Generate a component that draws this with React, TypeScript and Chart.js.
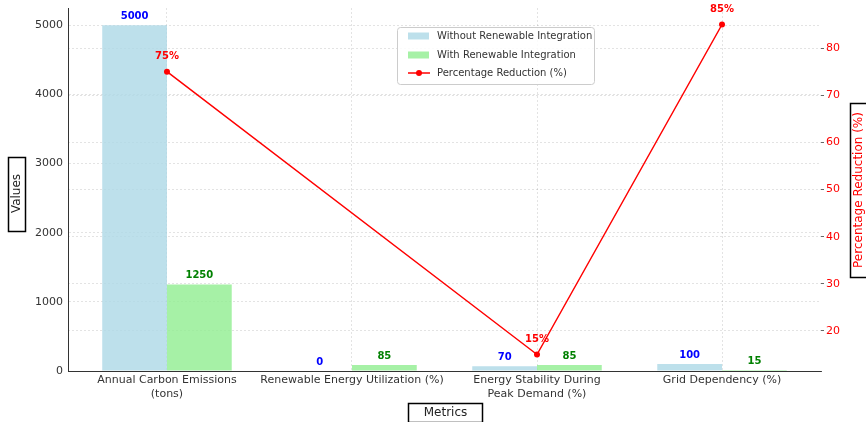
import React, { useEffect, useRef } from "react";
import { Chart, registerables } from "chart.js";

Chart.register(...registerables);

const categories: string[][] = [
  ["Annual Carbon Emissions", "(tons)"],
  ["Renewable Energy Utilization (%)"],
  ["Energy Stability During", "Peak Demand (%)"],
  ["Grid Dependency (%)"],
];
const withoutValues = [5000, 0, 70, 100];
const withValues = [1250, 85, 85, 15];
const reductionValues: (number | null)[] = [75, null, 15, 85];
const leftTicks = [0, 1000, 2000, 3000, 4000, 5000];
const rightTicks = [20, 30, 40, 50, 60, 70, 80];
const legendLabels = [
  "Without Renewable Integration",
  "With Renewable Integration",
  "Percentage Reduction (%)",
];

const FONT = "'DejaVu Sans', sans-serif";
const BLUE = "rgba(173,216,230,0.8)";
const GREEN = "rgba(144,238,144,0.8)";
const RED = "#ff0000";
const GRID = "rgba(0,0,0,0.14)";

const overlayPlugin = {
  id: "overlay",
  afterDatasetsDraw(chart: any) {
    const ctx = chart.ctx as CanvasRenderingContext2D;
    ctx.save();
    ctx.textAlign = "center";
    ctx.textBaseline = "middle";
    ctx.font = `bold 10px ${FONT}`;
    const m0 = chart.getDatasetMeta(0);
    const m1 = chart.getDatasetMeta(1);
    m0.data.forEach((el: any, i: number) => {
      ctx.fillStyle = "#0000ff";
      ctx.fillText(String(withoutValues[i]), el.x, el.y - 9);
    });
    m1.data.forEach((el: any, i: number) => {
      ctx.fillStyle = "#008000";
      ctx.fillText(String(withValues[i]), el.x, el.y - 9);
    });
    const m2 = chart.getDatasetMeta(2);
    m2.data.forEach((el: any, i: number) => {
      const v = reductionValues[i];
      if (v === null || v === undefined) return;
      ctx.fillStyle = RED;
      ctx.fillText(`${v}%`, el.x, el.y - 15);
    });
    ctx.restore();
  },
  afterDraw(chart: any) {
    const ctx = chart.ctx as CanvasRenderingContext2D;
    const area = chart.chartArea;
    ctx.save();
    // legend
    const lx = 397.5, ly = 27.5, lw = 197, lh = 57;
    ctx.beginPath();
    (ctx as any).roundRect(lx, ly, lw, lh, 3);
    ctx.fillStyle = "rgba(255,255,255,0.85)";
    ctx.fill();
    ctx.strokeStyle = "#cccccc";
    ctx.lineWidth = 1;
    ctx.stroke();
    const rows = [36, 55, 73];
    ctx.font = `10px ${FONT}`;
    ctx.textBaseline = "middle";
    ctx.textAlign = "left";
    ctx.fillStyle = BLUE;
    ctx.fillRect(408, rows[0] - 3.5, 21, 7);
    ctx.fillStyle = GREEN;
    ctx.fillRect(408, rows[1] - 3.5, 21, 7);
    ctx.strokeStyle = RED;
    ctx.lineWidth = 1.5;
    ctx.beginPath();
    ctx.moveTo(408, rows[2]);
    ctx.lineTo(430, rows[2]);
    ctx.stroke();
    ctx.fillStyle = RED;
    ctx.beginPath();
    ctx.arc(419, rows[2], 3, 0, Math.PI * 2);
    ctx.fill();
    ctx.fillStyle = "#333333";
    legendLabels.forEach((t, i) => ctx.fillText(t, 437, rows[i] + 0.5));

    // axis titles with boxes
    ctx.font = `12px ${FONT}`;
    ctx.textAlign = "center";
    ctx.textBaseline = "middle";
    ctx.lineWidth = 1.5;
    ctx.strokeStyle = "#000000";
    const cy = (area.top + area.bottom) / 2 + 4;
    ctx.strokeRect(8.5, 157.5, 17, 74);
    ctx.save();
    ctx.translate(17, cy);
    ctx.rotate(-Math.PI / 2);
    ctx.fillStyle = "#222222";
    ctx.fillText("Values", 0, 0);
    ctx.restore();
    ctx.strokeRect(408.5, 403.5, 74, 19);
    ctx.fillStyle = "#222222";
    ctx.fillText("Metrics", 445.5, 413);
    ctx.strokeRect(850.5, 103.5, 20, 174);
    ctx.save();
    ctx.translate(859, 190);
    ctx.rotate(-Math.PI / 2);
    ctx.fillStyle = RED;
    ctx.fillText("Percentage Reduction (%)", 0, 0);
    ctx.restore();
    ctx.restore();
  },
};

export default function App() {
  const ref = useRef<HTMLCanvasElement | null>(null);
  useEffect(() => {
    document.body.style.margin = "0";
    if (!ref.current) return;
    const chart = new Chart(ref.current, {
      type: "bar",
      data: {
        datasets: [
          {
            type: "bar",
            label: legendLabels[0],
            data: withoutValues.map((v, i) => ({ x: i, y: v })),
            backgroundColor: BLUE,
            borderWidth: 0,
            yAxisID: "y",
            order: 2,
            categoryPercentage: 0.7,
            barPercentage: 1.0,
          } as any,
          {
            type: "bar",
            label: legendLabels[1],
            data: withValues.map((v, i) => ({ x: i, y: v })),
            backgroundColor: GREEN,
            borderWidth: 0,
            yAxisID: "y",
            order: 2,
            categoryPercentage: 0.7,
            barPercentage: 1.0,
          } as any,
          {
            type: "line",
            label: legendLabels[2],
            data: reductionValues.map((v, i) => ({ x: i, y: v })),
            borderColor: RED,
            backgroundColor: RED,
            borderWidth: 1.5,
            pointRadius: 3,
            pointBackgroundColor: RED,
            pointBorderWidth: 0,
            spanGaps: true,
            yAxisID: "y1",
            order: 0,
            tension: 0,
          } as any,
        ],
      },
      options: {
        animation: false,
        responsive: false,
        devicePixelRatio: 1,
        layout: { padding: { top: 8, left: 0, right: 0, bottom: 0 } },
        plugins: { legend: { display: false }, tooltip: { enabled: false } },
        scales: {
          x: {
            type: "linear",
            offset: false,
            min: -0.535,
            max: 3.535,
            afterBuildTicks: (s: any) => {
              s.ticks = categories.map((_, i) => ({ value: i }));
            },
            afterFit: (s: any) => {
              s.height = 51;
              s.paddingLeft = 0;
              s.paddingRight = 0;
            },
            ticks: {
              autoSkip: false,
              maxRotation: 0,
              padding: 3,
              color: "#333333",
              font: { family: FONT, size: 11 },
              callback: (v: any) => categories[Math.round(Number(v))] ?? "",
            },
            grid: { offset: false, color: GRID, lineWidth: 0.8, drawTicks: false },
            border: { display: true, color: "#333333", width: 1, dash: [2, 2] },
          },
          y: {
            type: "linear",
            position: "left",
            min: 0,
            max: 5250,
            afterBuildTicks: (s: any) => {
              s.ticks = leftTicks.map((v) => ({ value: v }));
            },
            afterFit: (s: any) => {
              s.width = 68;
              s.paddingTop = 0;
              s.paddingBottom = 0;
            },
            ticks: {
              padding: 5,
              color: "#333333",
              font: { family: FONT, size: 11 },
              callback: (v: any) => String(v),
            },
            grid: { color: GRID, lineWidth: 0.8, drawTicks: false },
            border: { display: true, color: "#333333", width: 1, dash: [2, 2] },
          },
          y1: {
            type: "linear",
            position: "right",
            min: 11.5,
            max: 88.5,
            afterBuildTicks: (s: any) => {
              s.ticks = rightTicks.map((v) => ({ value: v }));
            },
            afterFit: (s: any) => {
              s.width = 45;
              s.paddingTop = 0;
              s.paddingBottom = 0;
            },
            ticks: {
              padding: 2,
              color: RED,
              font: { family: FONT, size: 11 },
              callback: (v: any) => String(v),
            },
            grid: {
              color: GRID,
              lineWidth: 0.8,
              drawTicks: true,
              tickLength: 3,
              tickColor: "#666666",
              tickWidth: 1,
            },
            border: { display: false, dash: [2, 2] },
          },
        },
      },
      plugins: [overlayPlugin],
    } as any);
    return () => chart.destroy();
  }, []);
  return (
    <div style={{ width: 866, height: 422, position: "relative", background: "#fff" }}>
      <canvas ref={ref} width={866} height={422} style={{ display: "block" }} />
    </div>
  );
}
